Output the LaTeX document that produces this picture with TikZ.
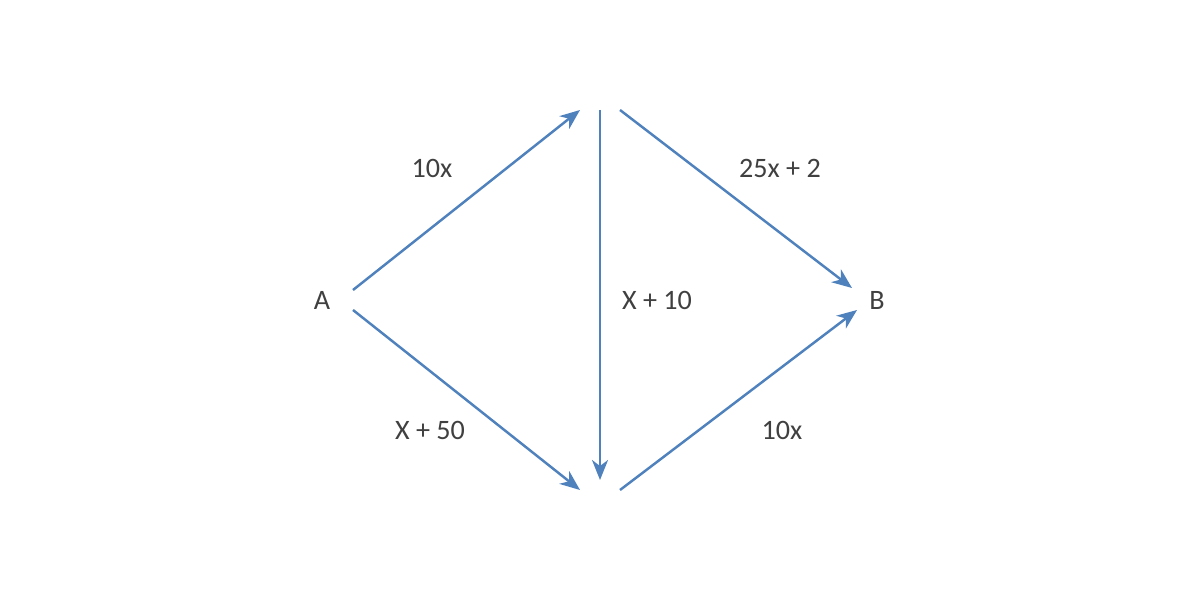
\documentclass[tikz,border=0pt]{standalone}
\usepackage{fontspec}
\setmainfont{Carlito}
\usetikzlibrary{arrows.meta}
\definecolor{edgeblue}{HTML}{4F81BD}
\definecolor{labelgray}{HTML}{404040}

\begin{document}
\begin{tikzpicture}[scale=1, >={Stealth[length=4mm,width=3.2mm,inset=1.2mm]},
  wire/.style={->,edgeblue,line width=1.4pt},
  lbl/.style={text=labelgray,font=\fontsize{16}{19}\selectfont}]
\useasboundingbox (0,0) rectangle (24,12);
  \node [lbl] (A) at (6.44,6.0) {A};
  \node [lbl] (B) at (17.54,6.0) {B};

  \coordinate (a1) at (7.06,6.2);
  \coordinate (a2) at (7.06,5.8);
  \coordinate (t1) at (11.6,9.8);
  \coordinate (t0) at (12.0,9.8);
  \coordinate (t2) at (12.4,9.8);
  \coordinate (d0) at (12.0,2.4);
  \coordinate (d1) at (11.6,2.2);
  \coordinate (d2) at (12.4,2.2);
  \coordinate (b1) at (17.04,6.24);
  \coordinate (b2) at (17.14,5.8);

  \draw [wire] (a1) -- (t1);
  \draw [wire] (t0) -- (d0);
  \draw [wire] (t2) -- (b1);
  \draw [wire] (a2) -- (d1);
  \draw [wire] (d2) -- (b2);

  \node [lbl] (atop) at (8.64,8.64) {10x};
  \node [lbl] (btop) at (15.6,8.64) {25x + 2};
  \node [lbl] (mid)  at (13.14,6.0) {X + 10};
  \node [lbl] (abot) at (8.6,3.4) {X + 50};
  \node [lbl] (bbot) at (15.64,3.4) {10x};
\end{tikzpicture}
\end{document}
